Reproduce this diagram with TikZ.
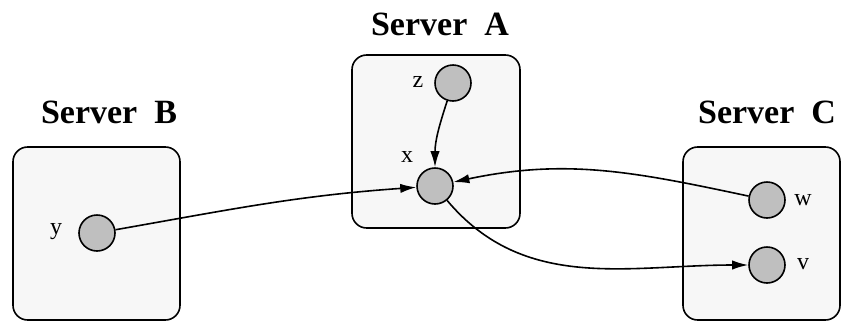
\documentclass[tikz,border=0pt]{standalone}
\usepackage{fontspec}
\setmainfont{Liberation Serif}
\usetikzlibrary{arrows.meta}
\tikzset{
  server/.style={draw, line width=1.2pt, rounded corners=11pt, fill=black!3},
  vert/.style={circle, draw, line width=1.2pt, fill=black!25, minimum size=27pt, inner sep=0pt},
  title/.style={font=\fontsize{25.5}{28}\selectfont\bfseries},
  lbl/.style={font=\fontsize{18}{20}\selectfont},
  edge/.style={line width=1.2pt, -{Latex[length=12pt,width=7pt]}},
}
\begin{document}
\begin{tikzpicture}[x=0.75pt,y=-0.75pt]
\useasboundingbox (0,0) rectangle (841,322);
% boxes
\draw[server] (352,55) rectangle (520,228);
\draw[server] (13,147) rectangle (180,320);
\draw[server] (683,147) rectangle (840,320);
% titles
\node[title] (tA) at (440,24) {Server\ \ A};
\node[title] (tB) at (109,112) {Server\ \ B};
\node[title] (tC) at (767,112) {Server\ \ C};
% vertices
\node[vert] (z) at (453,83) {};
\node[vert] (x) at (435,186) {};
\node[vert] (y) at (97,233) {};
\node[vert] (w) at (767,200) {};
\node[vert] (v) at (767,265) {};
% labels
\node[lbl] (lz) at (418,82) {z};
\node[lbl] (lx) at (407,157) {x};
\node[lbl] (ly) at (56,232) {y};
\node[lbl] (lw) at (803,200) {w};
\node[lbl] (lv) at (803,264) {v};
% edges
\draw[edge] (y) to[out=10,in=184] (x);
\draw[edge] (z) to[out=-108,in=90] (x);
\draw[edge] (w) to[out=168,in=12] (x);
\draw[edge] (x) to[out=-50,in=180] (v);
\end{tikzpicture}
\end{document}
